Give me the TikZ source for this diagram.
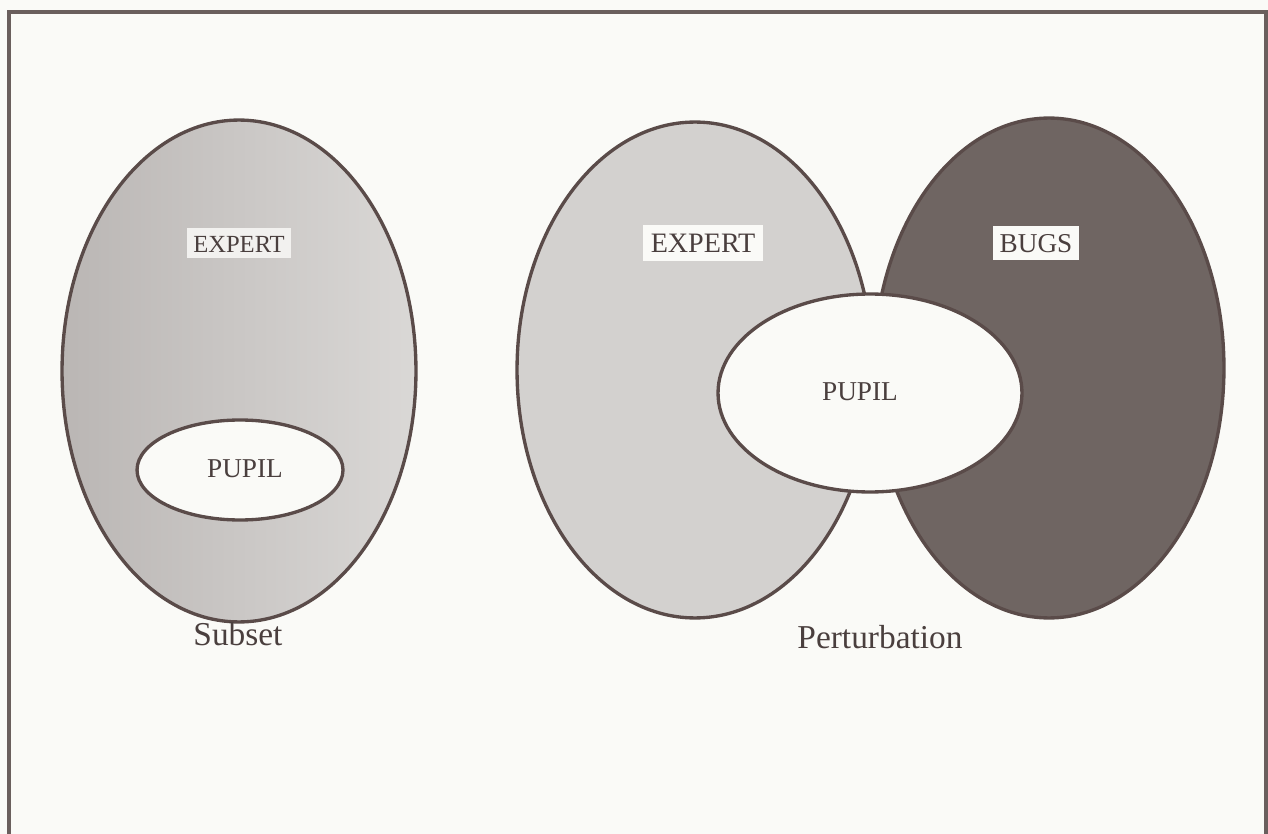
\documentclass[tikz,border=0pt]{standalone}
\usepackage{fontspec}
\setmainfont{Liberation Serif}
\usetikzlibrary{shapes.geometric}
\definecolor{paper}{HTML}{FAFAF7}
\definecolor{ink}{HTML}{5A4B49}
\definecolor{textink}{HTML}{4A3F3E}
\definecolor{frameink}{HTML}{6A5F5D}
\definecolor{expertA}{HTML}{BAB6B4}
\definecolor{expertB}{HTML}{DAD8D6}
\definecolor{expertlight}{HTML}{D3D1CF}
\definecolor{bugsfill}{HTML}{6F6562}
\definecolor{tagbg}{HTML}{F2F1EF}
\begin{document}
\begin{tikzpicture}[x=0.02cm,y=-0.02cm,
  setshape/.style={ellipse, draw=ink, line width=1.9pt, inner sep=0pt},
  tag/.style={text=textink, inner xsep=4pt, inner ysep=4pt,
              text height=10.5pt, text depth=0pt},
  capt/.style={text=textink, font=\fontsize{19}{22}\selectfont},
  frameline/.style={draw=frameink, line width=2.1pt}]
  % page
  \fill[paper] (0,0) rectangle (1268,834);
  \useasboundingbox (0,0) rectangle (1268,834);
  \coordinate (fbl) at (9,834);
  \coordinate (ftl) at (9,12);
  \coordinate (ftr) at (1266,12);
  \coordinate (fbr) at (1266,834);
  \draw[frameline] (fbl) -- (ftl) -- (ftr) -- (fbr);

  % Subset: pupil inside the expert set
  \node[setshape, left color=expertA, right color=expertB,
        minimum width=7.08cm, minimum height=10.04cm] (sexpert) at (239,371) {};
  \node[setshape, fill=paper, minimum width=4.12cm, minimum height=2.0cm] (spupil) at (240,470) {};
  \node[tag, fill=tagbg, font=\fontsize{14}{16}\selectfont, inner xsep=3.5pt, inner ysep=3.5pt] (sexpertlbl) at (239,243) {EXPERT};
  \node[tag, font=\fontsize{15.5}{18}\selectfont] (spupillbl) at (245,468) {PUPIL};
  \node[capt] (subset) at (238,634) {Subset};

  % Perturbation: pupil straddling expert and bugs
  \node[setshape, fill=expertlight, minimum width=7.12cm, minimum height=9.92cm] (pexpert) at (695,370) {};
  \node[setshape, fill=bugsfill, minimum width=7.0cm, minimum height=10.0cm] (pbugs) at (1049,368) {};
  \node[setshape, fill=paper, minimum width=6.08cm, minimum height=3.96cm] (ppupil) at (870,393) {};
  \node[tag, fill=paper, font=\fontsize{16}{19}\selectfont, inner xsep=4.5pt, inner ysep=5pt] (pexpertlbl) at (703,243) {EXPERT};
  \node[tag, fill=paper, font=\fontsize{15.5}{18}\selectfont, inner xsep=4pt, inner ysep=4.5pt] (pbugslbl) at (1036,243) {BUGS};
  \node[tag, font=\fontsize{15.5}{18}\selectfont] (ppupillbl) at (860,391) {PUPIL};
  \node[capt] (perturb) at (880,637) {Perturbation};
\end{tikzpicture}
\end{document}
